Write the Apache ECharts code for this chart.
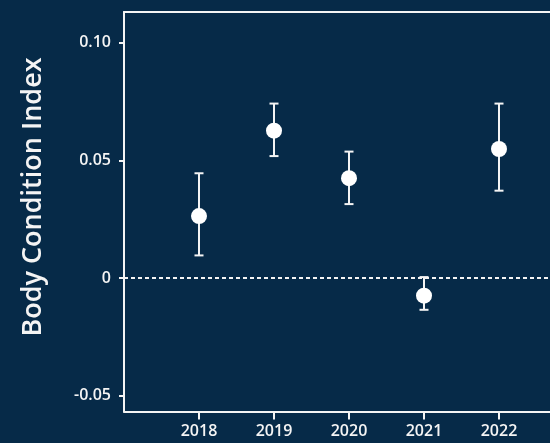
<!DOCTYPE html>
<html>
<head>
<meta charset="utf-8">
<script src="https://cdn.jsdelivr.net/npm/echarts@6/dist/echarts.min.js"></script>
<style>
  html, body { margin: 0; padding: 0; background: #062a48; }
  #chart { width: 550px; height: 443px; }
</style>
</head>
<body>
<div id="chart"></div>
<script>
// Body condition index per survey year, with lower/upper error bounds
const years = [2018, 2019, 2020, 2021, 2022];
const bciMean = [0.0263, 0.0626, 0.0424, -0.0075, 0.0548];
const bciLower = [0.0096, 0.0518, 0.0314, -0.0135, 0.0371];
const bciUpper = [0.0445, 0.0741, 0.0537, 0.0004, 0.0741];
const yTicks = [-0.05, 0, 0.05, 0.10];

const FG = '#f4f4f4';
const FONT = '"Open Sans", "DejaVu Sans", sans-serif';

const chart = echarts.init(document.getElementById('chart'), null, { renderer: 'canvas' });

const meanData = years.map((y, i) => [y, bciMean[i]]);
const barData = years.map((y, i) => [y, bciLower[i], bciUpper[i]]);

const labelStyle = { color: FG, fontFamily: FONT, fontSize: 16, fontWeight: 600 };
const X_MIN = 2017, X_MAX = 2022.68;

chart.setOption({
  backgroundColor: '#062a48',
  animation: false,
  grid: { left: 124, top: 12, right: 0, bottom: 31.5 },
  xAxis: [
    {
      type: 'value',
      position: 'bottom',
      min: X_MIN, max: X_MAX,
      splitLine: { show: false },
      axisLine: { show: true, onZero: false, lineStyle: { color: FG, width: 2 } },
      axisTick: { show: true, length: 8, lineStyle: { color: FG, width: 2 }, customValues: years },
      axisLabel: Object.assign({ margin: 12, customValues: years, formatter: v => String(v) }, labelStyle)
    },
    {
      // top frame edge
      type: 'value',
      position: 'top',
      min: X_MIN, max: X_MAX,
      splitLine: { show: false },
      axisLine: { show: true, onZero: false, lineStyle: { color: FG, width: 2 } },
      axisTick: { show: false },
      axisLabel: { show: false }
    }
  ],
  yAxis: {
    type: 'value',
    min: -0.0567, max: 0.113,
    splitLine: { show: false },
    axisLine: { show: true, onZero: false, lineStyle: { color: FG, width: 2 } },
    axisTick: { show: true, length: 5, lineStyle: { color: FG, width: 2 }, customValues: yTicks },
    axisLabel: Object.assign({
      margin: 13,
      customValues: yTicks,
      formatter: v => (Math.abs(v) < 1e-9 ? '0' : v.toFixed(2))
    }, labelStyle)
  },
  graphic: [{
    type: 'text',
    x: 33, y: 197,
    rotation: Math.PI / 2,
    style: {
      text: 'Body Condition Index',
      fill: FG, font: '600 27px ' + FONT,
      align: 'center', verticalAlign: 'middle'
    }
  }],
  series: [
    {
      type: 'custom',
      z: 2,
      data: barData,
      renderItem: function (params, api) {
        const x = api.value(0);
        const lo = api.coord([x, api.value(1)]);
        const hi = api.coord([x, api.value(2)]);
        const half = 4.5;
        const style = { stroke: FG, lineWidth: 2 };
        return {
          type: 'group',
          children: [
            { type: 'line', shape: { x1: lo[0], y1: lo[1], x2: hi[0], y2: hi[1] }, style },
            { type: 'line', shape: { x1: lo[0] - half, y1: lo[1], x2: lo[0] + half, y2: lo[1] }, style },
            { type: 'line', shape: { x1: hi[0] - half, y1: hi[1], x2: hi[0] + half, y2: hi[1] }, style }
          ]
        };
      }
    },
    {
      type: 'scatter',
      z: 3,
      data: meanData,
      symbol: 'circle',
      symbolSize: 16,
      itemStyle: { color: '#ffffff', opacity: 1 },
      markLine: {
        silent: true,
        symbol: 'none',
        label: { show: false },
        lineStyle: { color: FG, width: 2, type: [4, 3], opacity: 1 },
        emphasis: { disabled: true },
        data: [{ yAxis: 0 }]
      }
    }
  ]
});
</script>
</body>
</html>
